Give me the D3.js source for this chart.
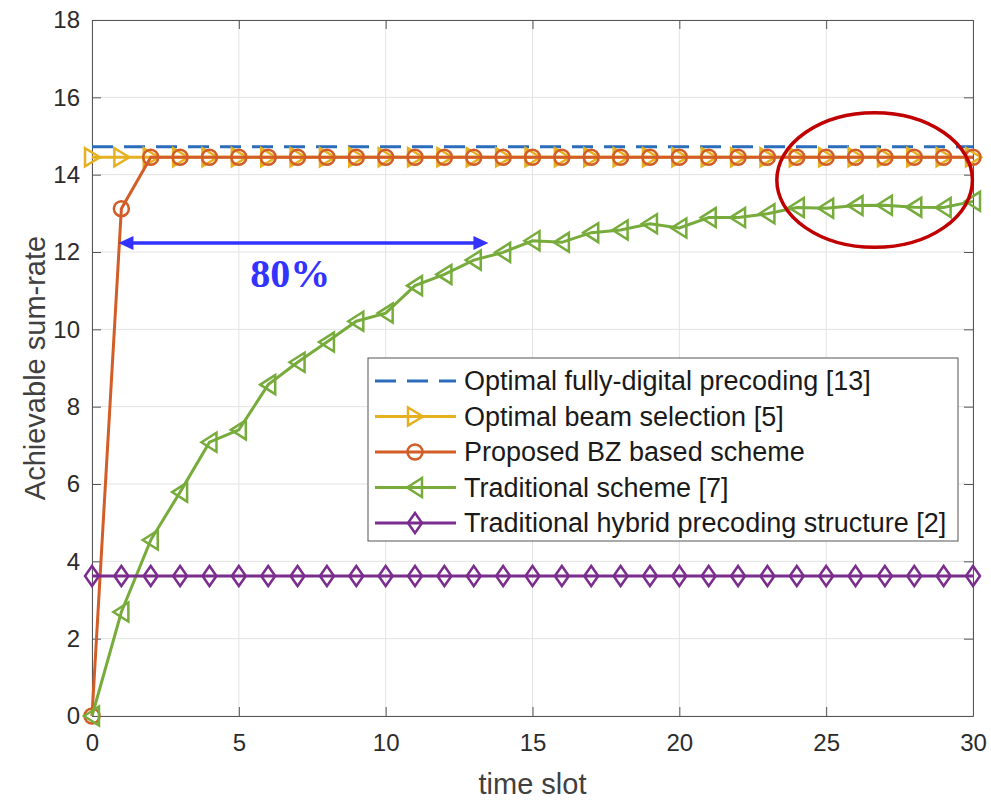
<!DOCTYPE html>
<html lang="en">
<head>
    <meta charset="UTF-8">
    <title>Achievable sum-rate</title>
    <script src="https://d3js.org/d3.v7.min.js"></script>
    <style>
        body { margin: 0; background: #fff; }
        .grid line { stroke: #e3e3e3; stroke-width: 1; }
        .tick-label { font-family: "Liberation Sans", Arial, sans-serif; font-size: 24px; fill: #2b2b2b; }
        .axis-label { font-family: "Liberation Sans", Arial, sans-serif; font-size: 29px; fill: #404040; }
        .legend-text { font-family: "Liberation Sans", Arial, sans-serif; font-size: 27px; fill: #1a1a1a; }
        .gain { font-family: "Liberation Serif", "Times New Roman", serif; font-weight: bold; font-size: 40px; }
    </style>
</head>
<body>
<script>
    // data
    const timeSlots = [0,1,2,3,4,5,6,7,8,9,10,11,12,13,14,15,16,17,18,19,20,21,22,23,24,25,26,27,28,29,30];
    const fullyDigital = [14.72,14.72,14.72,14.72,14.72,14.72,14.72,14.72,14.72,14.72,14.72,14.72,14.72,14.72,14.72,14.72,
        14.72,14.72,14.72,14.72,14.72,14.72,14.72,14.72,14.72,14.72,14.72,14.72,14.72,14.72,14.72];
    const beamSelection = [14.45,14.45,14.45,14.45,14.45,14.45,14.45,14.45,14.45,14.45,14.45,14.45,14.45,14.45,14.45,14.45,
        14.45,14.45,14.45,14.45,14.45,14.45,14.45,14.45,14.45,14.45,14.45,14.45,14.45,14.45,14.45];
    const proposedBZ = [0,13.12,14.45,14.45,14.45,14.45,14.45,14.45,14.45,14.45,14.45,14.45,14.45,14.45,14.45,14.45,
        14.45,14.45,14.45,14.45,14.45,14.45,14.45,14.45,14.45,14.45,14.45,14.45,14.45,14.45,14.45];
    const traditional = [0,2.69,4.55,5.79,7.08,7.40,8.57,9.15,9.67,10.21,10.42,11.13,11.42,11.79,11.99,12.29,
        12.25,12.50,12.57,12.73,12.62,12.89,12.89,12.99,13.15,13.13,13.20,13.21,13.16,13.15,13.31];
    const hybrid = [3.62,3.62,3.62,3.62,3.62,3.62,3.62,3.62,3.62,3.62,3.62,3.62,3.62,3.62,3.62,3.62,
        3.62,3.62,3.62,3.62,3.62,3.62,3.62,3.62,3.62,3.62,3.62,3.62,3.62,3.62,3.62];

    const xTicks = [0,5,10,15,20,25,30];
    const yTicks = [0,2,4,6,8,10,12,14,16,18];

    const legendLabels = ["Optimal fully-digital precoding [13]", "Optimal beam selection [5]",
        "Proposed BZ based scheme", "Traditional scheme [7]", "Traditional hybrid precoding structure [2]"];

    // annotations (data units)
    const arrowX = [0.9, 13.5], arrowY = 12.23;
    const gainLabel = "80%", gainPos = [6.75, 11.1];
    const ellipseCenter = [26.65, 13.86], ellipseRadii = [3.33, 1.74];

    const width = 991, height = 800;
    const margin = {top: 20, right: 18, bottom: 84, left: 92};

    const x = d3.scaleLinear().domain([0, 30]).range([margin.left, width - margin.right]);
    const y = d3.scaleLinear().domain([0, 18]).range([height - margin.bottom, margin.top]);

    const svg = d3.select("body").append("svg").attr("width", width).attr("height", height);
    svg.append("rect").attr("width", width).attr("height", height).attr("fill", "#fff");

    // grid
    const grid = svg.append("g").attr("class", "grid");
    grid.selectAll("line.v").data(xTicks).enter().append("line")
        .attr("x1", d => x(d)).attr("x2", d => x(d)).attr("y1", y(0)).attr("y2", y(18));
    grid.selectAll("line.h").data(yTicks).enter().append("line")
        .attr("x1", x(0)).attr("x2", x(30)).attr("y1", d => y(d)).attr("y2", d => y(d));

    // axes with inward ticks
    const axisColor = "#555";
    const tickLen = 9;
    const axes = svg.append("g");
    axes.append("g").attr("transform", `translate(0,${y(0)})`)
        .call(d3.axisBottom(x).tickValues(xTicks).tickSizeInner(-tickLen).tickSizeOuter(0).tickPadding(18));
    axes.append("g").attr("transform", `translate(${x(0)},0)`)
        .call(d3.axisLeft(y).tickValues(yTicks).tickSizeInner(-tickLen).tickSizeOuter(0).tickPadding(12));
    axes.append("g").attr("transform", `translate(0,${y(18)})`)
        .call(d3.axisTop(x).tickValues(xTicks).tickSizeInner(-tickLen).tickSizeOuter(0).tickFormat(""));
    axes.append("g").attr("transform", `translate(${x(30)},0)`)
        .call(d3.axisRight(y).tickValues(yTicks).tickSizeInner(-tickLen).tickSizeOuter(0).tickFormat(""));
    axes.selectAll("path, line").attr("stroke", axisColor);
    axes.selectAll("text").attr("class", "tick-label").attr("font-size", null).attr("font-family", null).attr("fill", null);

    svg.append("text").attr("class", "axis-label")
        .attr("x", x(15)).attr("y", height - 6).attr("text-anchor", "middle").text("time slot");
    svg.append("text").attr("class", "axis-label")
        .attr("transform", `translate(45,${(y(0) + y(18)) / 2}) rotate(-90)`)
        .attr("text-anchor", "middle").text("Achievable sum-rate");

    // markers
    const markerShapes = {
        right: "M8,0 L-7,-9 L-7,9 Z",
        circle: null,
        left: "M-8,0 L7,-9.5 L7,9.5 Z",
        diamond: "M0,-10 L7,0 L0,10 L-7,0 Z"
    };

    const series = [
        {values: fullyDigital, color: "#2a6ebb", dash: "21,11", marker: null},
        {values: beamSelection, color: "#e6b120", dash: null, marker: "right"},
        {values: proposedBZ, color: "#d35d27", dash: null, marker: "circle"},
        {values: traditional, color: "#77ac3c", dash: null, marker: "left"},
        {values: hybrid, color: "#7b2d8e", dash: null, marker: "diamond"}
    ];

    const line = d3.line().x((d, i) => x(timeSlots[i])).y(d => y(d));

    function drawMarker(g, shape, color) {
        if (shape === "circle") {
            g.append("circle").attr("r", 7.5).attr("fill", "none").attr("stroke", color).attr("stroke-width", 2.5);
        } else if (shape) {
            g.append("path").attr("d", markerShapes[shape]).attr("fill", "none")
                .attr("stroke", color).attr("stroke-width", 2.5).attr("stroke-linejoin", "miter");
        }
    }

    const plot = svg.append("g");
    series.forEach(s => {
        plot.append("path").datum(s.values).attr("d", line)
            .attr("fill", "none").attr("stroke", s.color).attr("stroke-width", 3)
            .attr("stroke-dasharray", s.dash);
        if (s.marker) {
            const m = plot.append("g").selectAll("g").data(s.values).enter().append("g")
                .attr("transform", (d, i) => `translate(${x(timeSlots[i])},${y(d)})`);
            m.each(function() { drawMarker(d3.select(this), s.marker, s.color); });
        }
    });

    // annotation arrow
    const blue = "#3333ff";
    const ann = svg.append("g");
    const ax0 = x(arrowX[0]), ax1 = x(arrowX[1]), ay = y(arrowY);
    ann.append("line").attr("x1", ax0 + 10).attr("x2", ax1 - 10).attr("y1", ay).attr("y2", ay)
        .attr("stroke", blue).attr("stroke-width", 3.5);
    ann.append("path").attr("d", `M${ax0},${ay} L${ax0 + 15},${ay - 7} L${ax0 + 15},${ay + 7} Z`).attr("fill", blue);
    ann.append("path").attr("d", `M${ax1},${ay} L${ax1 - 15},${ay - 7} L${ax1 - 15},${ay + 7} Z`).attr("fill", blue);
    ann.append("text").attr("class", "gain").attr("x", x(gainPos[0])).attr("y", y(gainPos[1]))
        .attr("text-anchor", "middle").attr("fill", blue).text(gainLabel);

    // red ellipse
    svg.append("ellipse")
        .attr("cx", x(ellipseCenter[0])).attr("cy", y(ellipseCenter[1]))
        .attr("rx", x(ellipseRadii[0]) - x(0)).attr("ry", y(0) - y(ellipseRadii[1]))
        .attr("fill", "none").attr("stroke", "#c00000").attr("stroke-width", 3.5);

    // legend
    const lg = svg.append("g").attr("transform", "translate(368,358)");
    lg.append("rect").attr("width", 590).attr("height", 183)
        .attr("fill", "#fff").attr("stroke", "#555").attr("stroke-width", 1);
    const rows = lg.selectAll("g.row").data(series).enter().append("g")
        .attr("transform", (d, i) => `translate(0,${23 + i * 35.5})`);
    rows.append("line").attr("x1", 7).attr("x2", 88).attr("y1", 0).attr("y2", 0)
        .attr("stroke", d => d.color).attr("stroke-width", 3).attr("stroke-dasharray", d => d.dash);
    rows.each(function(d) {
        const g = d3.select(this).append("g").attr("transform", "translate(47,0)");
        drawMarker(g, d.marker, d.color);
    });
    rows.append("text").attr("class", "legend-text").attr("x", 96).attr("y", 9)
        .text((d, i) => legendLabels[i]);
</script>
</body>
</html>
